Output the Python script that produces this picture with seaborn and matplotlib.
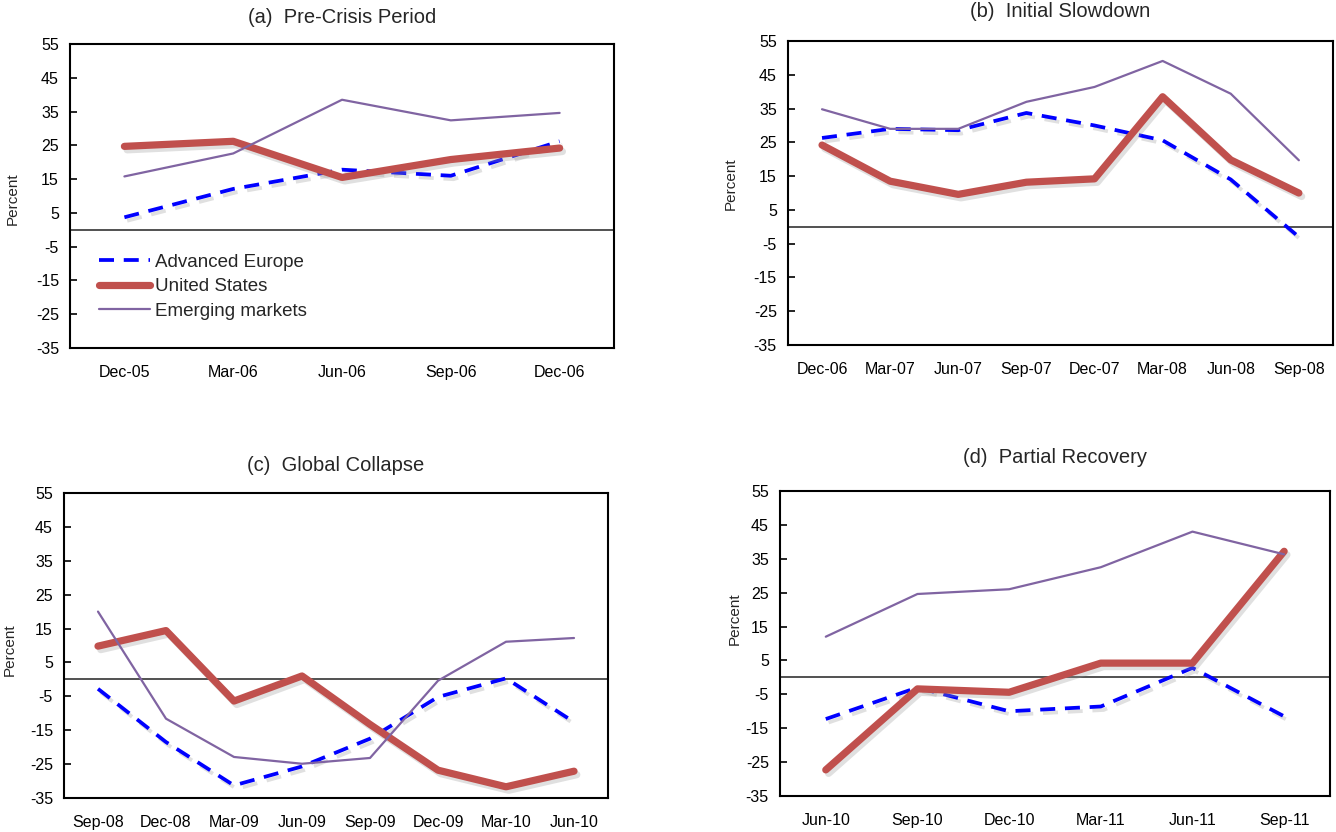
import matplotlib
matplotlib.use('Agg')
import matplotlib.pyplot as plt
import matplotlib.patheffects as pe
import seaborn as sns

sns.set_theme(style='white')
plt.rcParams['font.family'] = ['Liberation Sans', 'DejaVu Sans']
plt.rcParams['axes.unicode_minus'] = False

# panel (a) - Pre-Crisis Period
dates_a = ['Dec-05', 'Mar-06', 'Jun-06', 'Sep-06', 'Dec-06']
europe_a = [3.7, 12.1, 17.8, 16.0, 26.2]
us_a = [24.7, 26.2, 15.5, 20.8, 24.2]
em_a = [15.8, 22.6, 38.5, 32.4, 34.6]

# panel (b) - Initial Slowdown
dates_b = ['Dec-06', 'Mar-07', 'Jun-07', 'Sep-07', 'Dec-07', 'Mar-08', 'Jun-08', 'Sep-08']
europe_b = [26.3, 29.0, 28.6, 33.7, 30.0, 25.6, 14.0, -3.0]
us_b = [24.2, 13.5, 9.6, 13.2, 14.2, 38.5, 19.8, 10.0]
em_b = [34.8, 29.0, 29.0, 37.0, 41.4, 49.1, 39.4, 19.7]

# panel (c) - Global Collapse
dates_c = ['Sep-08', 'Dec-08', 'Mar-09', 'Jun-09', 'Sep-09', 'Dec-09', 'Mar-10', 'Jun-10']
europe_c = [-2.8, -18.5, -31.3, -25.7, -17.5, -5.2, 0.3, -12.6]
us_c = [9.8, 14.4, -6.4, 1.0, -13.3, -26.8, -31.7, -27.1]
em_c = [20.0, -11.6, -22.9, -24.9, -23.2, -0.4, 11.1, 12.2]

# panel (d) - Partial Recovery
dates_d = ['Jun-10', 'Sep-10', 'Dec-10', 'Mar-11', 'Jun-11', 'Sep-11']
europe_d = [-12.3, -3.0, -10.0, -8.6, 2.8, -11.5]
us_d = [-27.3, -3.4, -4.4, 4.2, 4.2, 37.2]
em_d = [12.0, 24.6, 26.0, 32.5, 43.0, 36.3]

titles = ['(a)  Pre-Crisis Period', '(b)  Initial Slowdown',
          '(c)  Global Collapse', '(d)  Partial Recovery']
series_names = ['Advanced Europe', 'United States', 'Emerging markets']
yticks = [55, 45, 35, 25, 15, 5, -5, -15, -25, -35]

panels = [(dates_a, europe_a, us_a, em_a),
          (dates_b, europe_b, us_b, em_b),
          (dates_c, europe_c, us_c, em_c),
          (dates_d, europe_d, us_d, em_d)]

# axes boxes in figure fractions [left, bottom, width, height]
boxes = [[0.0524, 0.5817, 0.4072, 0.3654],
         [0.5898, 0.5853, 0.4079, 0.3654],
         [0.0479, 0.0409, 0.4072, 0.3666],
         [0.5838, 0.0433, 0.4117, 0.3666]]
label_xy = [(-0.092, 0.49), (-0.092, 0.53), (-0.086, 0.485), (-0.069, 0.58)]
title_pad = [15, 17, 16, 20]

shadow = [pe.SimpleLineShadow(offset=(2, -2.5), shadow_color='#999999', alpha=0.3), pe.Normal()]

fig = plt.figure(figsize=(13.36, 8.32), dpi=100)

for i, (dates, eu, us, em) in enumerate(panels):
    ax = fig.add_axes(boxes[i])
    ax.axhline(0, color='#222222', lw=1.1, zorder=1)

    sns.lineplot(x=dates, y=eu, ax=ax, color='#0000FF', lw=2.7, sort=False,
                 legend=False, label=series_names[0], zorder=3)
    ax.lines[-1].set_dashes((4, 2.6))
    ax.lines[-1].set_path_effects(shadow)
    sns.lineplot(x=dates, y=us, ax=ax, color='#C0504D', lw=5.2, sort=False,
                 legend=False, label=series_names[1], zorder=4)
    ax.lines[-1].set_path_effects(shadow)
    sns.lineplot(x=dates, y=em, ax=ax, color='#8064A2', lw=1.6, sort=False,
                 legend=False, label=series_names[2], zorder=5)

    ax.set_ylim(-35, 55)
    ax.set_yticks(yticks)
    ax.set_xlim(-0.5, len(dates) - 0.5)
    ax.tick_params(axis='y', direction='in', length=5, width=1.2, left=True,
                   labelsize=11.5, pad=8, colors='black')
    ax.tick_params(axis='x', length=0, labelsize=11.5, pad=12, colors='black')
    for s in ax.spines.values():
        s.set_visible(True)
        s.set_color('black')
        s.set_linewidth(1.5)
    ax.set_ylabel('Percent', fontsize=11)
    ax.yaxis.set_label_coords(*label_xy[i])
    ax.set_title(titles[i], fontsize=14.5, pad=title_pad[i])
    if ax.get_legend() is not None:
        ax.get_legend().remove()

    if i == 0:
        leg = ax.legend(loc='upper left', bbox_to_anchor=(0.04, 0.335), frameon=False,
                        fontsize=13.5, handlelength=2.7, handletextpad=0.25,
                        labelspacing=0.4, borderaxespad=0)
        for h in leg.get_lines():
            h.set_path_effects([pe.Normal()])

fig.savefig('out.png', dpi=100)
